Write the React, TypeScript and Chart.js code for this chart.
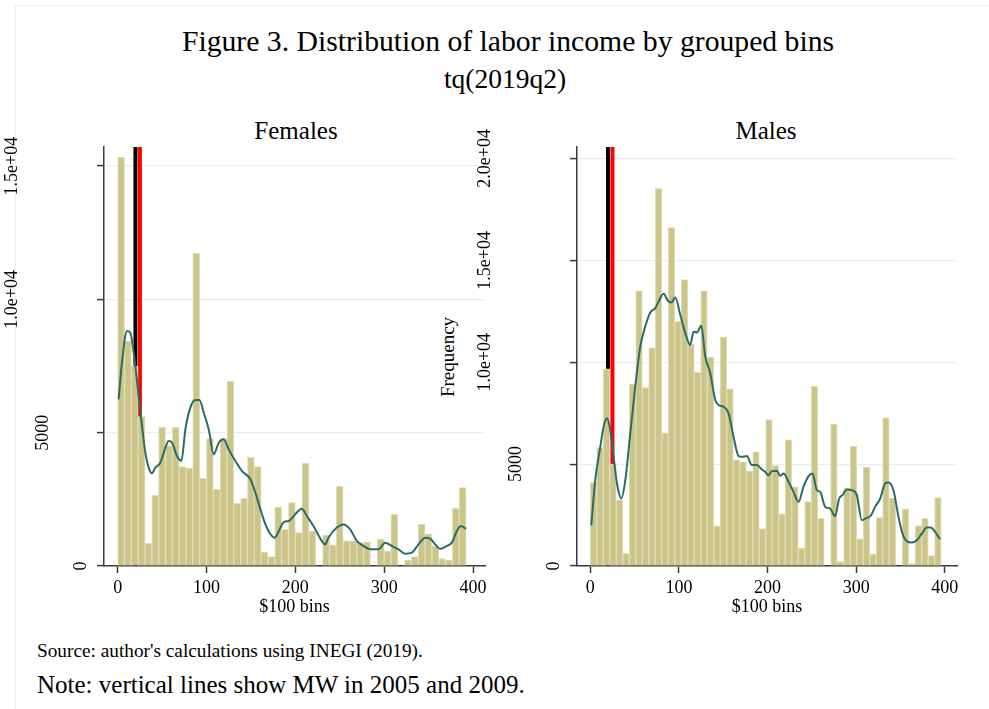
import React, { useEffect, useRef } from "react";
import { Chart, registerables } from "chart.js";

Chart.register(...registerables);

const FONT = "'Liberation Serif', 'Times New Roman', Times, serif";

// ---- data ----
const X_TICKS = [0, 100, 200, 300, 400];

const FEMALE_Y_TICKS = [0, 5000, 10000, 15000];
const FEMALE_Y_LABELS = ["0", "5000", "1.0e+04", "1.5e+04"];
const MALE_Y_TICKS = [0, 5000, 10000, 15000, 20000];
const MALE_Y_LABELS = ["0", "5000", "1.0e+04", "1.5e+04", "2.0e+04"];

// $100 bins: width of each histogram bin
const FEMALE_BIN_WIDTH = 7.69;
const FEMALE_COUNTS = [
  15325, 8440, 7500, 5600, 850, 2650, 5200, 4500, 5200, 3725,
  3675, 11725, 3290, 4775, 2875, 4775, 6925, 2350, 2540, 4075,
  3725, 525, 350, 2210, 1375, 2375, 1250, 3850, 1310, 0,
  1160, 790, 3000, 940, 940, 875, 910, 0, 1000, 560,
  1940, 0, 225, 350, 1560, 1210, 750, 275, 225, 2160, 2940,
];

const MALE_BIN_WIDTH = 7.33;
const MALE_COUNTS = [
  4098, 5800, 9680, 5000, 3250, 620, 8930, 13500, 8750, 10710,
  18520, 6540, 16610, 12010, 14060, 10880, 9500, 13500, 10250, 1970,
  11230, 8690, 5210, 5100, 4670, 5605, 1836, 7190, 4930, 2555,
  6190, 3880, 875, 3160, 8815, 2340, 0, 6966, 220, 3835,
  5870, 1330, 4850, 590, 2375, 7270, 3330, 0, 2800, 115,
  1980, 2340, 510, 3360,
];

// kernel density (scaled to frequency)
const FEMALE_KDE_X = [
  1.1, 4.8, 10.5, 14.2, 18, 23.6, 27.4, 31.1, 34.9, 38.6, 42.4, 48, 53.7, 57.4, 61.2,
  66.8, 71.7, 76.2, 81.8, 87.5, 92, 96.9, 102.5, 108.1, 113.8, 119.4, 125, 132.5, 140,
  149.4, 155, 160.7, 166.4, 172, 176.9, 181.4, 187, 192.7, 199.8, 207.3, 212.9, 220.4,
  229.8, 233.6, 237.3, 246.7, 254.2, 261.7, 269.2, 276.7, 286.1, 293.6, 301.1, 308.6,
  316.1, 323.6, 331.1, 338.6, 346.2, 351.8, 357.4, 363.1, 370.6, 376.2, 381.8, 386.3, 392.3,
];
const FEMALE_KDE_Y = [
  6250, 7625, 8810, 8750, 8000, 6375, 5250, 4250, 3690, 3475, 3690, 3875, 4440, 4690, 4625,
  4125, 3940, 5125, 5940, 6225, 6225, 5750, 5125, 4190, 4625, 4750, 4375, 3940, 3560,
  3250, 2750, 2125, 1560, 1190, 1060, 1310, 1650, 1690, 1940, 2150, 1875, 1500,
  940, 810, 1060, 1440, 1560, 1375, 940, 750, 625, 625, 875, 750,
  625, 460, 500, 810, 1060, 1025, 810, 650, 750, 875, 1310, 1500, 1400,
];

const MALE_KDE_X = [
  1.1, 5.6, 11.3, 15, 18.8, 22.5, 26.3, 30.1, 35, 39.5, 45.1, 50.7, 56.4, 62, 67.7, 73.3,
  77.1, 82.7, 87.6, 91.4, 95.9, 101.5, 107.2, 112.8, 116.6, 120.3, 125.2, 129.7, 135.3,
  141, 144.7, 150.4, 156, 161.6, 167.3, 171, 176.7, 182.3, 187.9, 193.6, 197.3, 201,
  204.8, 210.5, 214.2, 218, 223.6, 229.2, 234.9, 240.5, 246.2, 250.7, 255.6, 259.3, 265,
  270.6, 276.2, 280.8, 284.5, 289.4, 295, 300.7, 306.3, 310.1, 316.8, 321.3, 327, 332.6,
  336.4, 342, 347.7, 352.2, 357.1, 362.7, 368.3, 374, 379.6, 384.1, 389, 394.6,
];
const MALE_KDE_Y = [
  2000, 4212, 5851, 6835, 7244, 6671, 5360, 4048, 3311, 4212, 6507, 8802, 10768, 11752, 12440, 12653,
  12981, 13358, 13014, 12932, 13178, 12325, 11424, 10850, 11506, 11457, 11785, 10277, 9457,
  8146, 7900, 7818, 7490, 6343, 5392, 5360, 5392, 4950, 4950, 4737, 4622, 4458,
  4655, 4671, 4425, 4540, 4130, 3639, 3147, 3884, 4409, 4540, 3720, 3639, 2901,
  2819, 2442, 3311, 3475, 3753, 3720, 3475, 2245, 2327, 2491, 2901, 3311, 4048,
  4097, 3720, 2409, 1590, 1213, 1147, 1262, 1590, 1885, 1885, 1672, 1311,
];

// minimum wage reference lines ($100 units): 2005, 2009
const MW_VALUES = [20, 25];
const MW_COLORS = ["#000000", "#ff0000"];

// ---- styles ----
const AXIS = "#3a3a3a";
const GRID = "#e6eff1";
const BAR_FILL = "#ccc58a";
const BAR_EDGE = "#e2ddb6";
const KDE_COLOR = "#2b6b63";

type PanelProps = {
  counts: number[];
  binWidth: number;
  kdeX: number[];
  kdeY: number[];
  yTicks: number[];
  yLabels: string[];
  yMax: number;
  xMin: number;
  xMax: number;
  left: number;
  top: number;
  width: number;
  height: number;
  yScaleWidth: number;
  padRight: number;
  padTop: number;
  xScaleHeight: number;
};

function Panel(p: PanelProps) {
  const ref = useRef<HTMLCanvasElement | null>(null);

  useEffect(() => {
    if (!ref.current) return;

    const mwPlugin = {
      id: "mwLines",
      beforeDatasetsDraw(chart: any) {
        const ctx = chart.ctx;
        const xs = chart.scales.x;
        const { top, bottom } = chart.chartArea;
        ctx.save();
        MW_VALUES.forEach((v, i) => {
          const px = xs.getPixelForValue(v);
          ctx.fillStyle = MW_COLORS[i];
          ctx.fillRect(px - 2, top, 4, bottom - top);
        });
        ctx.restore();
      },
    };

    const yLabelPlugin = {
      id: "yLabels",
      afterDraw(chart: any) {
        const ctx = chart.ctx;
        const ys = chart.scales.y;
        const left = chart.chartArea.left;
        ctx.save();
        ctx.font = `18px ${FONT}`;
        ctx.fillStyle = "#000";
        ctx.textAlign = "center";
        ctx.textBaseline = "middle";
        p.yTicks.forEach((v, i) => {
          const label = p.yLabels[i];
          const w = ctx.measureText(label).width;
          const py = ys.getPixelForValue(v);
          const cx = left - (10 + 1.4 * w);
          ctx.save();
          ctx.translate(cx, py);
          ctx.rotate(-Math.PI / 2);
          ctx.fillText(label, 0, 0);
          ctx.restore();
        });
        ctx.restore();
      },
    };

    const chart = new Chart(ref.current, {
      type: "bar",
      data: {
        datasets: [
          {
            type: "line",
            data: p.kdeX.map((x, i) => ({ x, y: p.kdeY[i] })),
            borderColor: KDE_COLOR,
            borderWidth: 2,
            pointRadius: 0,
            tension: 0.4,
            cubicInterpolationMode: "monotone",
            fill: false,
            order: 0,
          } as any,
          {
            type: "bar",
            data: p.counts.map((c, i) => ({ x: (i + 0.5) * p.binWidth, y: c })),
            backgroundColor: BAR_FILL,
            borderColor: BAR_EDGE,
            borderWidth: 1,
            borderSkipped: "bottom",
            barPercentage: 1,
            categoryPercentage: 1,
            order: 1,
          } as any,
        ],
      },
      options: {
        animation: false,
        responsive: false,
        maintainAspectRatio: false,
        devicePixelRatio: 1,
        layout: { padding: { top: p.padTop, right: p.padRight, left: 0, bottom: 0 } },
        plugins: {
          legend: { display: false },
          tooltip: { enabled: false },
          title: { display: false },
        },
        scales: {
          x: {
            type: "linear",
            min: p.xMin,
            max: p.xMax,
            offset: false,
            afterBuildTicks: (s: any) => {
              s.ticks = X_TICKS.map((v) => ({ value: v }));
            },
            afterFit: (s: any) => {
              s.height = p.xScaleHeight;
            },
            grid: {
              drawOnChartArea: false,
              drawTicks: true,
              tickLength: 7,
              tickColor: AXIS,
              tickWidth: 1.5,
              offset: false,
            },
            border: { display: true, color: AXIS, width: 1.5 },
            ticks: {
              color: "#000",
              font: { family: FONT, size: 18 },
              padding: 4,
              maxRotation: 0,
              autoSkip: false,
              callback: (v: any) => String(v),
            },
            title: {
              display: true,
              text: "$100 bins",
              color: "#000",
              font: { family: FONT, size: 18 },
              padding: { top: 0, bottom: 12 },
            },
          } as any,
          y: {
            type: "linear",
            position: "left",
            min: 0,
            max: p.yMax,
            afterBuildTicks: (s: any) => {
              s.ticks = p.yTicks.map((v) => ({ value: v }));
            },
            afterFit: (s: any) => {
              s.width = p.yScaleWidth;
            },
            grid: {
              color: GRID,
              lineWidth: 1.2,
              drawTicks: true,
              tickLength: 7,
              tickColor: AXIS,
              tickWidth: 1.5,
            },
            border: { display: true, color: AXIS, width: 1.5 },
            ticks: { display: false },
          } as any,
        },
      },
      plugins: [mwPlugin, yLabelPlugin],
    });

    return () => chart.destroy();
  }, []);

  return (
    <canvas
      ref={ref}
      width={p.width}
      height={p.height}
      style={{
        position: "absolute",
        left: p.left,
        top: p.top,
        width: p.width,
        height: p.height,
      }}
    />
  );
}

const textBase: React.CSSProperties = {
  position: "absolute",
  fontFamily: FONT,
  color: "#000",
  whiteSpace: "nowrap",
  lineHeight: 1,
};

export default function App() {
  return (
    <div
      style={{
        position: "absolute",
        left: 0,
        top: 0,
        width: 989,
        height: 709,
        background: "#ffffff",
        overflow: "hidden",
        fontFamily: FONT,
      }}
    >
      <div
        style={{
          position: "absolute",
          left: 15,
          top: 5,
          width: 1000,
          height: 800,
          border: "1px solid #e9efef",
        }}
      />
      <div style={{ ...textBase, left: 508, top: 42, fontSize: 29.7, transform: "translate(-50%, -50%)" }}>
        Figure 3. Distribution of labor income by grouped bins
      </div>
      <div style={{ ...textBase, left: 505, top: 79, fontSize: 27.5, transform: "translate(-50%, -50%)" }}>
        tq(2019q2)
      </div>
      <div style={{ ...textBase, left: 296, top: 130, fontSize: 25, transform: "translate(-50%, -50%)" }}>
        Females
      </div>
      <div style={{ ...textBase, left: 766, top: 130, fontSize: 25, transform: "translate(-50%, -50%)" }}>
        Males
      </div>
      <div
        style={{
          ...textBase,
          left: 447,
          top: 357,
          fontSize: 19,
          transform: "translate(-50%, -50%) rotate(-90deg)",
        }}
      >
        Frequency
      </div>

      <Panel
        counts={FEMALE_COUNTS}
        binWidth={FEMALE_BIN_WIDTH}
        kdeX={FEMALE_KDE_X}
        kdeY={FEMALE_KDE_Y}
        yTicks={FEMALE_Y_TICKS}
        yLabels={FEMALE_Y_LABELS}
        yMax={15716}
        xMin={-15.4}
        xMax={413.5}
        left={0}
        top={100}
        width={495}
        height={530}
        yScaleWidth={104}
        padRight={10}
        padTop={47}
        xScaleHeight={64}
      />
      <Panel
        counts={MALE_COUNTS}
        binWidth={MALE_BIN_WIDTH}
        kdeX={MALE_KDE_X}
        kdeY={MALE_KDE_Y}
        yTicks={MALE_Y_TICKS}
        yLabels={MALE_Y_LABELS}
        yMax={20560}
        xMin={-15}
        xMax={413.7}
        left={460}
        top={100}
        width={519}
        height={530}
        yScaleWidth={117}
        padRight={22}
        padTop={47}
        xScaleHeight={64}
      />

      <div style={{ ...textBase, left: 37, top: 651, fontSize: 19.3, transform: "translateY(-50%)" }}>
        Source: author's calculations using INEGI (2019).
      </div>
      <div style={{ ...textBase, left: 37, top: 684, fontSize: 25, transform: "translateY(-50%)" }}>
        Note: vertical lines show MW in 2005 and 2009.
      </div>
    </div>
  );
}
